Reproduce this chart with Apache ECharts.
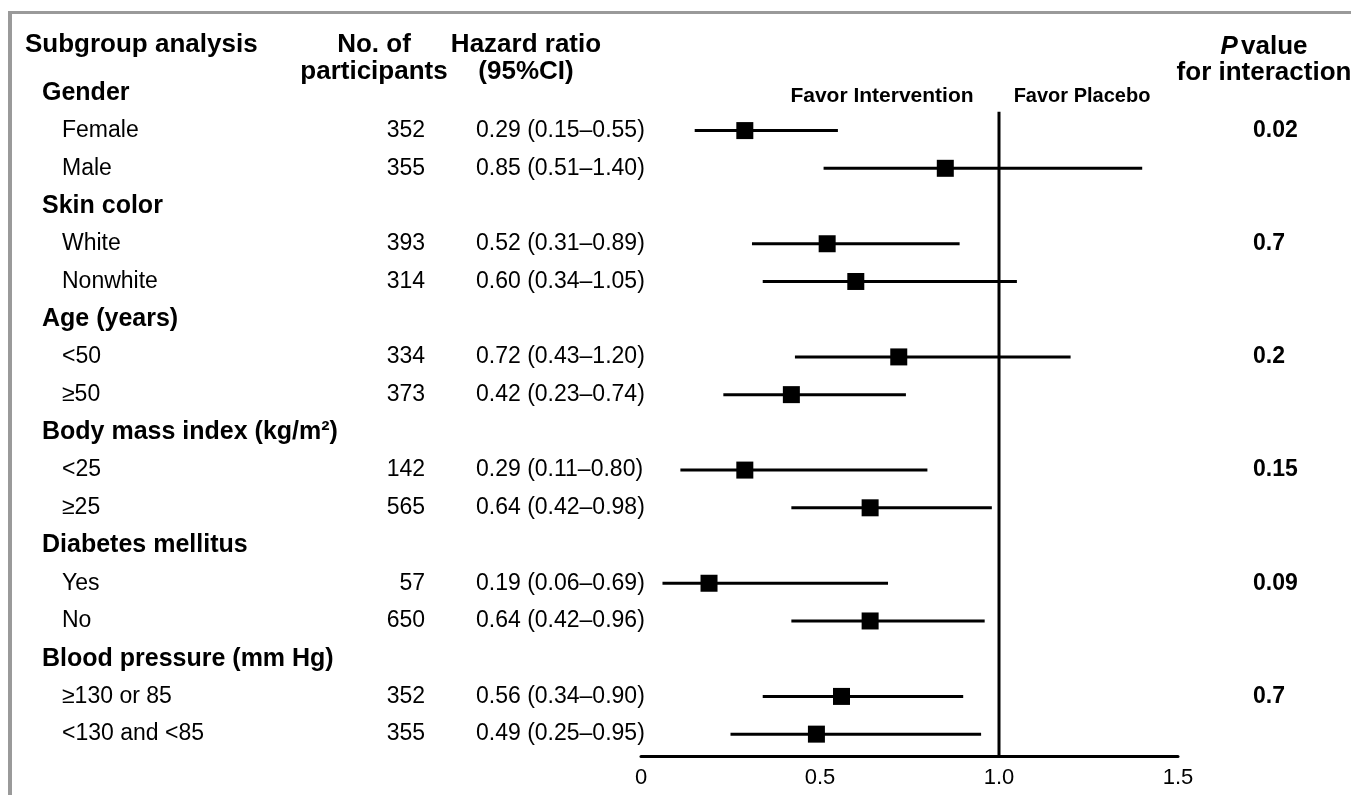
<!DOCTYPE html>
<html>
<head>
<meta charset="utf-8">
<script src="https://cdn.jsdelivr.net/npm/echarts@6/dist/echarts.min.js"></script>
<style>
html,body{margin:0;padding:0;background:#fff;}
#chart{width:1351px;height:795px;}
</style>
</head>
<body>
<div id="chart"></div>
<script>
// ---- data ----
const rowLabels = ['Gender','Female','Male','Skin color','White','Nonwhite','Age (years)','<50','≥50',
  'Body mass index (kg/m²)','<25','≥25','Diabetes mellitus','Yes','No','Blood pressure (mm Hg)','≥130 or 85','<130 and <85'];
const participants = [null,352,355,null,393,314,null,334,373,null,142,565,null,57,650,null,352,355];
const hazardRatio = [null,0.29,0.85,null,0.52,0.60,null,0.72,0.42,null,0.29,0.64,null,0.19,0.64,null,0.56,0.49];
const ciLower = [null,0.15,0.51,null,0.31,0.34,null,0.43,0.23,null,0.11,0.42,null,0.06,0.42,null,0.34,0.25];
const ciUpper = [null,0.55,1.40,null,0.89,1.05,null,1.20,0.74,null,0.80,0.98,null,0.69,0.96,null,0.90,0.95];
const pInteraction = ['','0.02','','','0.7','','','0.2','','','0.15','','','0.09','','','0.7',''];
const xTickValues = [0, 0.5, 1.0, 1.5];
const nullEffect = 1.0;

// ---- chart ----
const FONT = '"Liberation Sans", Arial, Helvetica, sans-serif';
const gridLeft = 641, gridRightEdge = 1178;
const chart = echarts.init(document.getElementById('chart'), null, {renderer: 'canvas'});

const dataRows = rowLabels.map((_, i) => i).filter(i => hazardRatio[i] != null);
const hrText = rowLabels.map((_, i) => hazardRatio[i] == null ? '' :
  hazardRatio[i].toFixed(2) + ' (' + ciLower[i].toFixed(2) + '–' + ciUpper[i].toFixed(2) + ')');

function textAxis(position, offset, labelOpts) {
  return {
    type: 'category', data: rowLabels, inverse: true, position: position, offset: offset,
    axisLine: {show: false}, axisTick: {show: false}, splitLine: {show: false},
    axisLabel: Object.assign({interval: 0, color: '#000', fontFamily: FONT, fontSize: 23, margin: 0}, labelOpts)
  };
}

const hdr = (text, x, y, align) => ({type: 'text', x: x, y: y, silent: true,
  style: {text: text, font: 'bold 26px ' + FONT, fill: '#000', textAlign: align || 'center', textVerticalAlign: 'middle'}});

const option = {
  animation: false,
  backgroundColor: '#fff',
  grid: {left: gridLeft, right: 1351 - gridRightEdge, top: 74, bottom: 42, containLabel: false},
  xAxis: {
    type: 'value', min: xTickValues[0], max: xTickValues[xTickValues.length - 1], interval: 0.5,
    position: 'bottom', offset: 3,
    axisLine: {show: true, lineStyle: {color: '#000', width: 3}},
    axisTick: {show: false}, splitLine: {show: false},
    axisLabel: {color: '#000', fontFamily: FONT, fontSize: 22, margin: 11,
      formatter: v => v === 0 ? '0' : v.toFixed(1)}
  },
  yAxis: [
    textAxis('left', gridLeft - 42, {align: 'left',
      formatter: (v, i) => participants[i] == null ? '{h|' + v + '}' : '{s|' + v + '}',
      rich: {
        h: {fontFamily: FONT, fontSize: 25, fontWeight: 'bold', color: '#000'},
        s: {fontFamily: FONT, fontSize: 23, color: '#000', padding: [0, 0, 0, 20]}
      }}),
    textAxis('left', gridLeft - 425, {align: 'right',
      formatter: (v, i) => participants[i] == null ? '' : String(participants[i])}),
    textAxis('left', gridLeft - 476, {align: 'left', formatter: (v, i) => hrText[i]}),
    textAxis('right', 1253 - gridRightEdge, {align: 'left', fontWeight: 'bold',
      formatter: (v, i) => pInteraction[i]})
  ],
  series: [
    {
      type: 'custom', yAxisIndex: 0, silent: true,
      data: [[nullEffect]],
      renderItem: function (params, api) {
        const p = api.coord([api.value(0), 0]);
        const band = api.size([0, 1])[1];
        const cs = params.coordSys;
        return {type: 'line', shape: {x1: p[0], y1: p[1] + band / 2, x2: p[0], y2: cs.y + cs.height + 3},
          style: {stroke: '#000', lineWidth: 3}};
      }
    },
    {
      type: 'custom', yAxisIndex: 0, silent: true,
      data: dataRows.map(i => [ciLower[i], ciUpper[i], i]),
      encode: {x: [0, 1], y: 2},
      renderItem: function (params, api) {
        const a = api.coord([api.value(0), api.value(2)]);
        const b = api.coord([api.value(1), api.value(2)]);
        return {type: 'line', shape: {x1: a[0], y1: a[1], x2: b[0], y2: b[1]},
          style: {stroke: '#000', lineWidth: 3}};
      }
    },
    {
      type: 'scatter', yAxisIndex: 0, silent: true,
      symbol: 'rect', symbolSize: 17,
      itemStyle: {color: '#000', opacity: 1},
      data: dataRows.map(i => [hazardRatio[i], i]),
      z: 5
    }
  ],
  graphic: [
    {type: 'rect', shape: {x: 8, y: 11, width: 1400, height: 3}, style: {fill: '#9a9a9a'}, silent: true},
    {type: 'rect', shape: {x: 8, y: 11, width: 4, height: 800}, style: {fill: '#9a9a9a'}, silent: true},
    hdr('Subgroup analysis', 25, 45, 'left'),
    hdr('No. of', 374, 45),
    hdr('participants', 374, 72),
    hdr('Hazard ratio', 526, 45),
    hdr('(95%CI)', 526, 72),
    {type: 'text', x: 882, y: 96, silent: true, style: {text: 'Favor Intervention', font: 'bold 21px ' + FONT, fill: '#000', textAlign: 'center', textVerticalAlign: 'middle'}},
    {type: 'text', x: 1082, y: 96, silent: true, style: {text: 'Favor Placebo', font: 'bold 20px ' + FONT, fill: '#000', textAlign: 'center', textVerticalAlign: 'middle'}},
    {type: 'text', x: 1264, y: 47, silent: true, style: {
      text: '{i|P} {b|value}', textAlign: 'center', textVerticalAlign: 'middle',
      rich: {i: {font: 'italic bold 26px ' + FONT, fill: '#000'}, b: {font: 'bold 26px ' + FONT, fill: '#000'}}}},
    hdr('for interaction', 1264, 73)
  ]
};
chart.setOption(option);
</script>
</body>
</html>
